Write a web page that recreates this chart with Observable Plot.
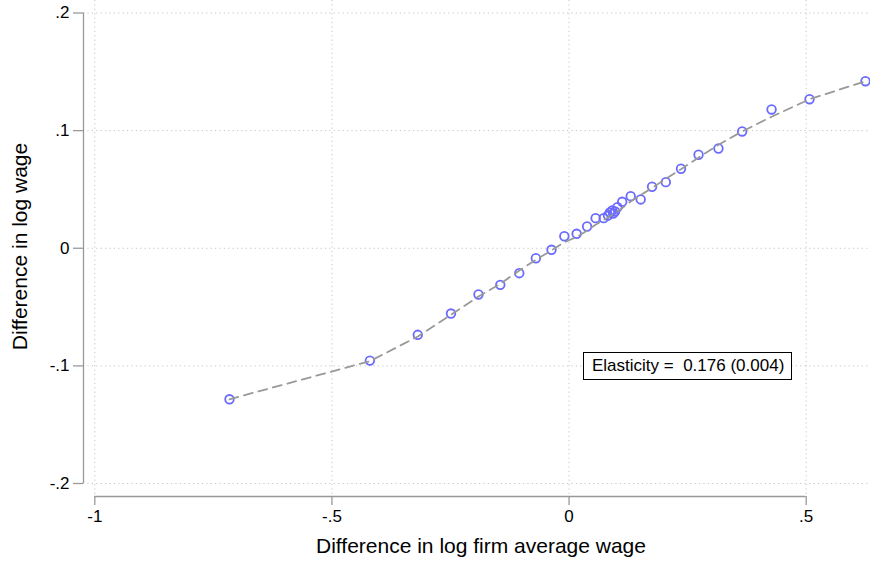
<!DOCTYPE html>
<html>
<head>
<meta charset="utf-8">
<script src="https://cdn.jsdelivr.net/npm/d3@7"></script>
<script src="https://cdn.jsdelivr.net/npm/@observablehq/plot@0.6"></script>
<style>
  html, body { margin: 0; padding: 0; background: #fff; }
  #wrap { position: relative; width: 870px; height: 561px; font-family: "Liberation Sans", Arial, sans-serif; }
  #note { position: absolute; left: 583px; top: 352px; width: 199px; height: 26px; border: 1.3px solid #000; background: #fff;
          font-size: 17px; line-height: 26px; padding-left: 8px; box-sizing: content-box; white-space: pre; color: #000; }
</style>
</head>
<body>
<div id="wrap"></div>
<script>
// Binned scatter values (difference in log firm average wage, difference in log wage)
const binX = [-0.716, -0.420, -0.319, -0.249, -0.191, -0.145, -0.105, -0.070, -0.037, -0.010, 0.016, 0.038, 0.056, 0.073, 0.082, 0.086, 0.091, 0.093, 0.097, 0.102, 0.112, 0.130, 0.151, 0.175, 0.204, 0.236, 0.273, 0.315, 0.365, 0.427, 0.507, 0.625];
const binY = [-0.1284, -0.0955, -0.0736, -0.0555, -0.0393, -0.0311, -0.0212, -0.0085, -0.0013, 0.0102, 0.0123, 0.0185, 0.0256, 0.0256, 0.0278, 0.0304, 0.0321, 0.0295, 0.0312, 0.0349, 0.0395, 0.0443, 0.0415, 0.0523, 0.0562, 0.0676, 0.0795, 0.0848, 0.0993, 0.1180, 0.1267, 0.1420];
// Fitted (dashed) line values at the same x positions
const fitY = [-0.1284, -0.0960, -0.0750, -0.0565, -0.0410, -0.0302, -0.0190, -0.0098, -0.0018, 0.0051, 0.0096, 0.0150, 0.0200, 0.0240, 0.0262, 0.0272, 0.0285, 0.0290, 0.0300, 0.0313, 0.0342, 0.0398, 0.0452, 0.0512, 0.0590, 0.0672, 0.0770, 0.0880, 0.0993, 0.1118, 0.1267, 0.1420];

const xTicks = [-1, -0.5, 0, 0.5];
const xTickLabels = ["-1", "-.5", "0", ".5"];
const yTicks = [-0.2, -0.1, 0, 0.1, 0.2];
const yTickLabels = ["-.2", "-.1", "0", ".1", ".2"];

const xTitle = "Difference in log firm average wage";
const yTitle = "Difference in log wage";
const elasticity = "0.176";
const elasticitySE = "0.004";

const points = binX.map((x, i) => ({x, y: binY[i]}));
const fit = binX.map((x, i) => ({x, y: fitY[i]}));

const gridStyle = {stroke: "#c4c4c4", strokeOpacity: 1, strokeWidth: 1, strokeDasharray: "1.2,3.2"};
const axisGray = "#999";

const chart = Plot.plot({
  width: 870,
  height: 561,
  marginLeft: 83,
  marginRight: 0,
  marginTop: 0,
  marginBottom: 65,
  style: {fontFamily: "Liberation Sans, Arial, sans-serif", fontSize: "17px", background: "#fff", color: "#000", overflow: "visible"},
  x: {domain: [xTicks[0], xTicks[xTicks.length - 1]], range: [94.3, 805.7]},
  y: {domain: [yTicks[0], yTicks[yTicks.length - 1]], range: [483, 12.5]},
  marks: [
    Plot.gridX(xTicks, gridStyle),
    Plot.gridY(yTicks, gridStyle),
    // axis lines (Stata-style, offset from the plot region)
    Plot.ruleY([yTicks[0]], {x1: xTicks[0], x2: xTicks[xTicks.length - 1], dy: 13, stroke: axisGray, strokeWidth: 1.3}),
    Plot.ruleX([xTicks[0]], {y1: yTicks[0], y2: yTicks[yTicks.length - 1], dx: -11.3, stroke: axisGray, strokeWidth: 1.3}),
    Plot.axisX(xTicks, {tickFormat: d => xTickLabels[xTicks.indexOf(d)], tickSize: 9, tickPadding: 4, stroke: axisGray, strokeWidth: 1.3, fill: "#000", fontSize: 17, label: null}),
    Plot.axisY(yTicks, {tickFormat: d => yTickLabels[yTicks.indexOf(d)], tickSize: 10, tickPadding: 4, stroke: axisGray, strokeWidth: 1.3, fill: "#000", fontSize: 17, label: null}),
    Plot.text([xTitle], {frameAnchor: "bottom", dx: 4, dy: 56, fontSize: 21, fill: "#000"}),
    Plot.text([yTitle], {frameAnchor: "left", textAnchor: "middle", rotate: -90, dx: -63, dy: -2, fontSize: 21, fill: "#000"}),
    Plot.dot(points, {x: "x", y: "y", r: 4.3, stroke: "#6a6aff", strokeWidth: 1.8, fill: "none"}),
    Plot.line(fit, {x: "x", y: "y", stroke: "#999", strokeWidth: 1.8, strokeDasharray: "9,6"})
  ]
});

const wrap = document.getElementById("wrap");
wrap.appendChild(chart);
const note = document.createElement("div");
note.id = "note";
note.textContent = `Elasticity =  ${elasticity} (${elasticitySE})`;
wrap.appendChild(note);
</script>
</body>
</html>
